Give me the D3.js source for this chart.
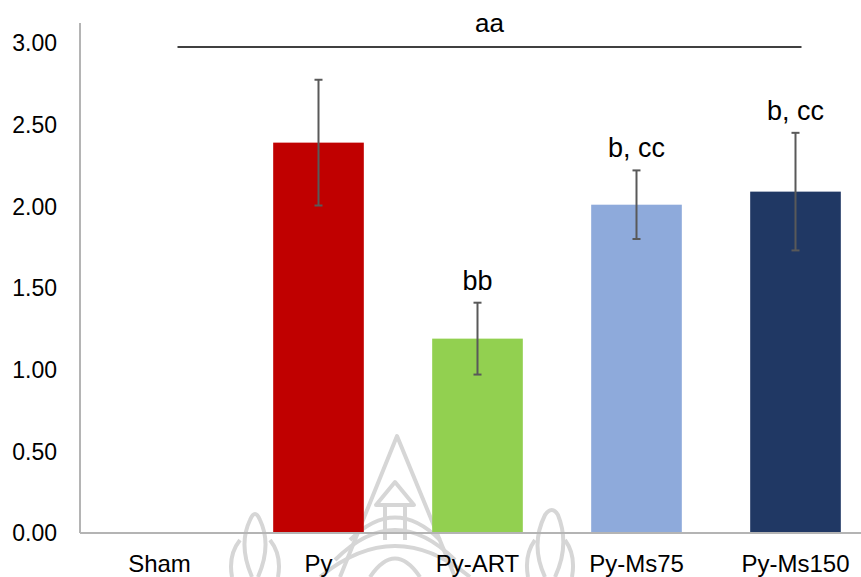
<!DOCTYPE html>
<html>
<head>
<meta charset="utf-8">
<script src="https://cdn.jsdelivr.net/npm/d3@7"></script>
<style>
  body { margin: 0; background: #fff; }
  text { font-family: "Liberation Sans", Arial, sans-serif; }
</style>
</head>
<body>
<div id="chart"></div>
<script>
///// Data

let groups = ["Sham", "Py", "Py-ART", "Py-Ms75", "Py-Ms150"];
let means = [0, 2.39, 1.19, 2.01, 2.09];
let errors = [0, 0.385, 0.22, 0.21, 0.36];
let colors = ["#ffffff", "#c00000", "#92d050", "#8eaadb", "#203864"];
let sigLabels = ["", "", "bb", "b, cc", "b, cc"];
let yTicks = [0, 0.5, 1, 1.5, 2, 2.5, 3];

///// Layout

let width = 861, height = 577;

let x = d3.scaleBand()
    .domain(groups)
    .range([80, 875])
    .paddingInner(0.43)
    .paddingOuter(0.215);

let y = d3.scaleLinear().domain([0, 3]).range([533, 43]);

let svg = d3.select("#chart")
    .append("svg")
    .attr("width", width)
    .attr("height", height);

// faint watermark emblem behind the bars
let wm = svg.append("g")
    .attr("fill", "none")
    .attr("stroke", "#d6d6d6")
    .attr("stroke-width", 4)
    .attr("stroke-linejoin", "round");
wm.append("path").attr("d", "M340,577 L397,436 L455,577");
wm.append("path").attr("d", "M376,505 L395,482 L414,505 Z");
wm.append("path").attr("d", "M350,540 Q395,495 440,540");
wm.append("path").attr("d", "M335,560 Q395,500 455,560");
wm.append("path").attr("d", "M320,577 Q395,515 470,577");
wm.append("path").attr("d", "M370,577 Q395,540 420,577");
wm.append("path").attr("d", "M385,505 L385,540 M405,505 L405,540");
wm.append("path").attr("d", "M252,577 Q238,545 250,520 Q255,508 260,520 Q272,545 258,577");
wm.append("path").attr("d", "M232,577 Q228,555 240,540 M278,577 Q282,555 270,540");
wm.append("path").attr("d", "M545,577 Q530,545 545,515 Q552,505 558,515 Q570,545 555,577");
wm.append("path").attr("d", "M528,577 Q524,555 535,540 M572,577 Q576,555 565,540");

// y axis line and labels
svg.append("line")
    .attr("x1", 80).attr("x2", 80)
    .attr("y1", 23).attr("y2", y(0))
    .attr("stroke", "#b4b4b4")
    .attr("stroke-width", 2);

svg.selectAll(".ytick")
    .data(yTicks)
    .enter().append("text")
    .attr("class", "ytick")
    .attr("x", 57)
    .attr("y", d => y(d))
    .attr("dy", "0.36em")
    .attr("text-anchor", "end")
    .attr("font-size", 23)
    .attr("fill", "#000")
    .text(d => d.toFixed(2));

// bars
svg.selectAll(".bar")
    .data(groups)
    .enter().append("rect")
    .attr("class", "bar")
    .attr("x", d => x(d))
    .attr("width", x.bandwidth())
    .attr("y", (d, i) => y(means[i]))
    .attr("height", (d, i) => y(0) - y(means[i]))
    .attr("fill", (d, i) => colors[i]);

// x axis line
svg.append("line")
    .attr("x1", 80).attr("x2", width)
    .attr("y1", y(0)).attr("y2", y(0))
    .attr("stroke", "#b4b4b4")
    .attr("stroke-width", 2);

// x labels
svg.selectAll(".xlab")
    .data(groups)
    .enter().append("text")
    .attr("class", "xlab")
    .attr("x", d => x(d) + x.bandwidth() / 2)
    .attr("y", 572)
    .attr("text-anchor", "middle")
    .attr("font-size", 24)
    .attr("fill", "#000")
    .text(d => d);

// error bars
let err = svg.selectAll(".err")
    .data(groups.filter((d, i) => errors[i] > 0))
    .enter().append("g")
    .attr("class", "err")
    .attr("stroke", "#595959")
    .attr("stroke-width", 2);

err.append("line")
    .attr("x1", d => x(d) + x.bandwidth() / 2)
    .attr("x2", d => x(d) + x.bandwidth() / 2)
    .attr("y1", d => { let i = groups.indexOf(d); return y(means[i] + errors[i]); })
    .attr("y2", d => { let i = groups.indexOf(d); return y(means[i] - errors[i]); });

[1, -1].forEach(function(s) {
    err.append("line")
        .attr("x1", d => x(d) + x.bandwidth() / 2 - 4)
        .attr("x2", d => x(d) + x.bandwidth() / 2 + 4)
        .attr("y1", d => { let i = groups.indexOf(d); return y(means[i] + s * errors[i]); })
        .attr("y2", d => { let i = groups.indexOf(d); return y(means[i] + s * errors[i]); });
});

// significance letters above the bars
svg.selectAll(".sig")
    .data(groups)
    .enter().append("text")
    .attr("class", "sig")
    .attr("x", d => x(d) + x.bandwidth() / 2)
    .attr("y", (d, i) => y(means[i] + errors[i]) - 13)
    .attr("text-anchor", "middle")
    .attr("font-size", 27)
    .attr("fill", "#000")
    .text((d, i) => sigLabels[i]);

// overall comparison bracket (aa)
let lx1 = x("Sham") + x.bandwidth() / 2 + 18;
let lx2 = x("Py-Ms150") + x.bandwidth() / 2 + 6;
svg.append("line")
    .attr("x1", lx1).attr("x2", lx2)
    .attr("y1", 47).attr("y2", 47)
    .attr("stroke", "#000")
    .attr("stroke-width", 1.5);

svg.append("text")
    .attr("x", (lx1 + lx2) / 2)
    .attr("y", 32)
    .attr("text-anchor", "middle")
    .attr("font-size", 26)
    .text("aa");
</script>
</body>
</html>
